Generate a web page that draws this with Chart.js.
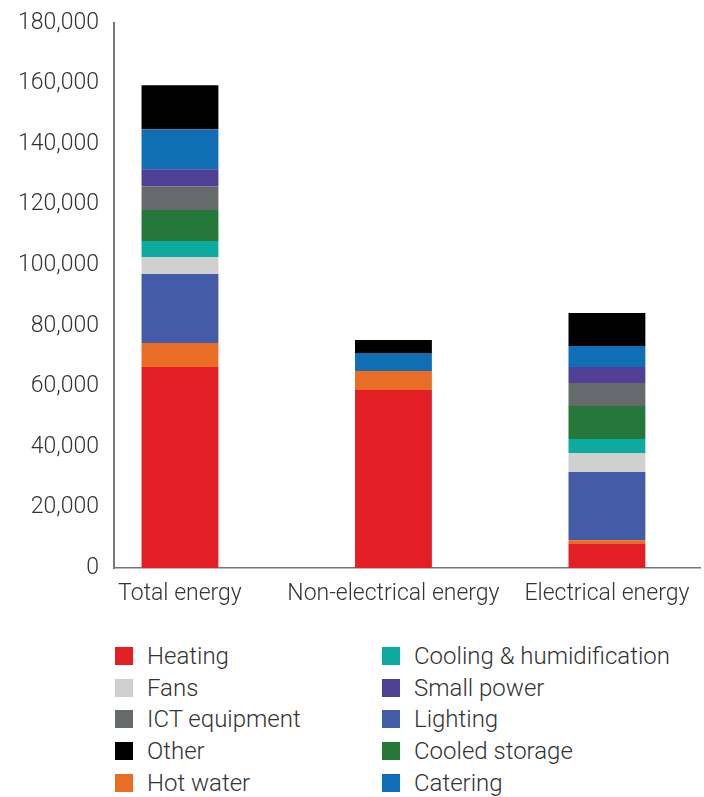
<!DOCTYPE html>
<html>
<head>
<meta charset="utf-8">
<script src="https://cdn.jsdelivr.net/npm/chart.js@4.4.1/dist/chart.umd.min.js"></script>
<style>
    body { margin: 0; background: #fff; font-family: Roboto, "Liberation Sans", sans-serif; }
    #wrap { position: relative; width: 704px; height: 797px; }
    #chartBox { position: absolute; left: 0; top: 0; width: 704px; height: 610px; }
    #legend { position: absolute; left: 115px; top: 640px; display: grid;
              grid-template-columns: 267px 300px; grid-auto-rows: 31.8px; }
    .item { display: flex; align-items: center; font-size: 24px; font-weight: 300; color: #333; white-space: nowrap; }
    .box { width: 18px; height: 18px; margin-right: 14px; flex: none; }
</style>
</head>
<body>
<div id="wrap">
    <div id="chartBox"><canvas id="myChart"></canvas></div>
    <div id="legend"></div>
</div>
<script>
// categories on the x axis
var categories = ['Total energy', 'Non-electrical energy', 'Electrical energy'];

// series, bottom of the stack first
var heating        = [66400, 58800, 7900];
var hotWater       = [7900, 6300, 1300];
var lighting       = [22800, 0, 22500];
var fans           = [5600, 0, 6300];
var cooling        = [5300, 0, 4600];
var cooledStorage  = [10200, 0, 10900];
var ictEquipment   = [7900, 0, 7600];
var smallPower     = [5600, 0, 5300];
var catering       = [13200, 5900, 6900];
var other          = [14500, 4300, 10900];

var yTicks = [0, 20000, 40000, 60000, 80000, 100000, 120000, 140000, 160000, 180000];

// legend order (column by column)
var legendOrder = ['Heating', 'Fans', 'ICT equipment', 'Other', 'Hot water',
    'Cooling & humidification', 'Small power', 'Lighting', 'Cooled storage', 'Catering'];

var series = [
    { label: 'Heating', values: heating, color: '#e31e24' },
    { label: 'Hot water', values: hotWater, color: '#e96d24' },
    { label: 'Lighting', values: lighting, color: '#445ca8' },
    { label: 'Fans', values: fans, color: '#d0d1cf' },
    { label: 'Cooling & humidification', values: cooling, color: '#0dab9f' },
    { label: 'Cooled storage', values: cooledStorage, color: '#26773a' },
    { label: 'ICT equipment', values: ictEquipment, color: '#676a6b' },
    { label: 'Small power', values: smallPower, color: '#4f3f95' },
    { label: 'Catering', values: catering, color: '#106eb5' },
    { label: 'Other', values: other, color: '#000000' }
];

var datasets = series.map((s) => {
    return {
        label: s.label,
        data: s.values.map((v, i) => { return { x: i, y: v }; }),
        backgroundColor: s.color,
        borderWidth: 0,
        barPercentage: 0.36,
        categoryPercentage: 1
    };
});

var font = { family: 'Roboto, "Liberation Sans", sans-serif', size: 23, weight: 300 };

var ctx = document.getElementById('myChart').getContext('2d');
var myChart = new Chart(ctx, {
    type: 'bar',
    data: { datasets: datasets },
    options: {
        responsive: true,
        maintainAspectRatio: false,
        animation: false,
        layout: { padding: { top: 23, right: 4, left: 0, bottom: 0 } },
        plugins: {
            legend: { display: false },
            tooltip: { enabled: false }
        },
        scales: {
            x: {
                type: 'linear',
                stacked: true,
                offset: false,
                min: -0.309,
                max: 2.436,
                grid: { display: false },
                border: { display: true, color: '#777', width: 1.5 },
                afterBuildTicks: (scale) => {
                    scale.ticks = categories.map((c, i) => { return { value: i }; });
                },
                afterFit: (scale) => { scale.height = 42; },
                ticks: {
                    color: '#333',
                    font: font,
                    padding: 4,
                    maxRotation: 0,
                    autoSkip: false,
                    callback: (value) => { return categories[value]; }
                }
            },
            y: {
                stacked: true,
                min: 0,
                max: 180000,
                grid: { display: false },
                border: { display: true, color: '#777', width: 2 },
                afterBuildTicks: (scale) => {
                    scale.ticks = yTicks.map((v) => { return { value: v }; });
                },
                afterFit: (scale) => { scale.width = 114; },
                ticks: {
                    color: '#333',
                    font: font,
                    padding: 7,
                    callback: (value) => { return value.toLocaleString('en-US'); }
                }
            }
        }
    }
});

// HTML legend in two columns
var legend = document.getElementById('legend');
legend.style.gridAutoFlow = 'column';
legend.style.gridTemplateRows = 'repeat(5, 31.8px)';
legendOrder.forEach((name) => {
    var s = series.find((d) => { return d.label === name; });
    var item = document.createElement('div');
    item.className = 'item';
    item.innerHTML = '<span class="box" style="background:' + s.color + '"></span>' + s.label;
    legend.appendChild(item);
});
</script>
</body>
</html>
